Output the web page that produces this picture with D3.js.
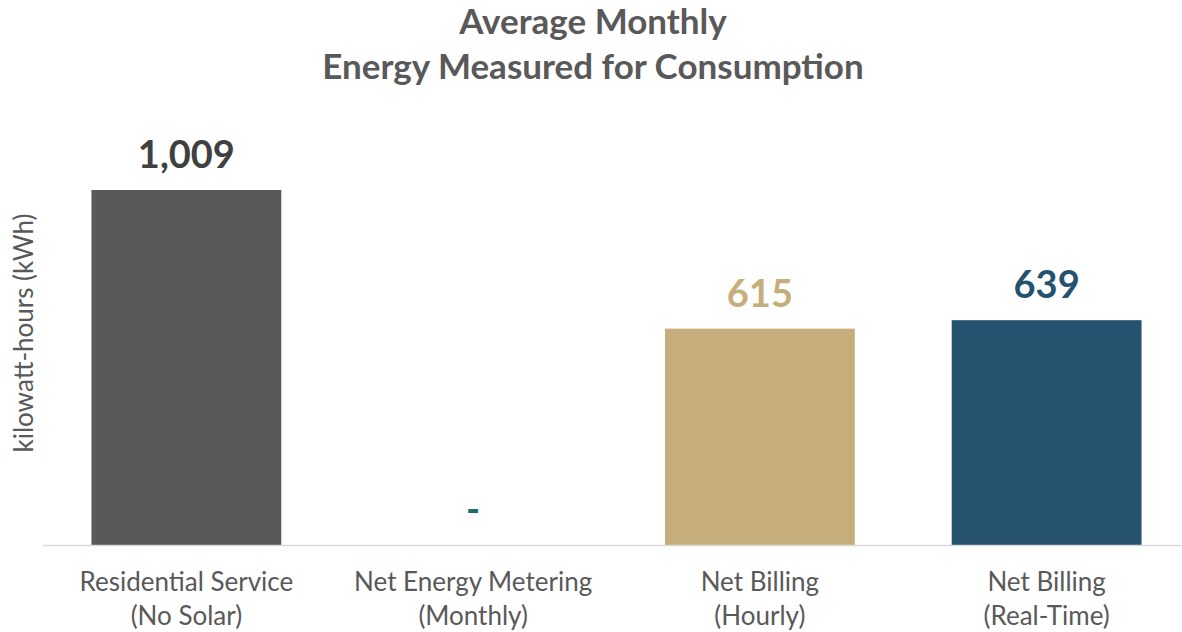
<!DOCTYPE html>
<html><head><meta charset="utf-8">
<script src="https://cdn.jsdelivr.net/npm/d3@7"></script>
<style>body{margin:0;background:#fff;} svg{display:block;}</style>
</head><body>
<svg id="chart" width="1182" height="632"></svg>
<script>
const categories = [["Residential Service","(No Solar)"],["Net Energy Metering","(Monthly)"],["Net Billing","(Hourly)"],["Net Billing","(Real-Time)"]];
const values = [1009, 0, 615, 639];
const valueLabels = ["1,009", "-", "615", "639"];
const barColors = ["#595959", "#1b6e6e", "#c6ae7c", "#25526f"];
const labelColors = ["#404040", "#1b6e6e", "#c6ae7c", "#25526f"];
const titleLines = ["Average Monthly", "Energy Measured for Consumption"];
const yTitle = "kilowatt-hours (kWh)";

const font = "Lato, 'Open Sans', sans-serif";
const svg = d3.select("#chart");
const baseY = 545;
const x = d3.scaleBand().domain(d3.range(categories.length)).range([43, 1190]).paddingInner(0.338).paddingOuter(0.169);
const y = d3.scaleLinear().domain([0, 1009]).range([baseY, 190]);

svg.append("g").selectAll("text").data(titleLines).join("text")
  .attr("x", 593).attr("y", (d,i)=>34+i*45)
  .attr("text-anchor","middle").attr("font-family",font).attr("font-weight","bold")
  .attr("font-size",35).attr("fill","#595959").text(d=>d);

svg.append("text").attr("transform","translate(33,333) rotate(-90)")
  .attr("text-anchor","middle").attr("font-family",font).attr("font-size",26)
  .attr("fill","#595959").text(yTitle);

svg.append("g").selectAll("rect").data(values).join("rect")
  .attr("x",(d,i)=>x(i)).attr("width",x.bandwidth())
  .attr("y",d=>y(d)).attr("height",d=>baseY-y(d))
  .attr("fill",(d,i)=>barColors[i]);

svg.append("line").attr("x1",43).attr("x2",1182).attr("y1",baseY+0.5).attr("y2",baseY+0.5)
  .attr("stroke","#d9d9d9").attr("stroke-width",1.5);

svg.append("g").selectAll("text").data(values).join("text")
  .attr("x",(d,i)=>x(i)+x.bandwidth()/2).attr("y",d=>y(d)-22)
  .attr("text-anchor","middle").attr("font-family",font).attr("font-weight","bold")
  .attr("font-size",38).attr("fill",(d,i)=>labelColors[i]).text((d,i)=>valueLabels[i]);

const cg = svg.append("g").selectAll("text").data(categories).join("text")
  .attr("text-anchor","middle").attr("font-family",font).attr("font-size",26).attr("fill","#595959");
cg.selectAll("tspan").data((d,i)=>d.map(s=>({s,i}))).join("tspan")
  .attr("x",d=>x(d.i)+x.bandwidth()/2).attr("y",(d,j)=>591+j*34).text(d=>d.s);
</script>
</body></html>
